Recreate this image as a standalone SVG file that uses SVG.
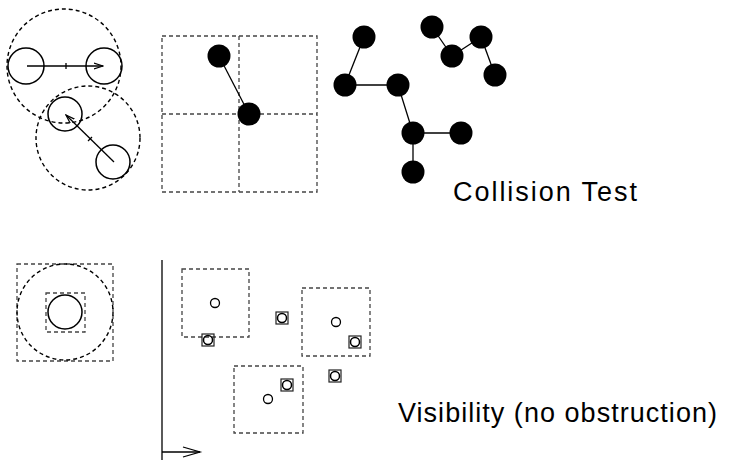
<svg xmlns="http://www.w3.org/2000/svg" width="729" height="460" viewBox="0 0 729 460">
<style>
.d{fill:none;stroke:#000;stroke-width:1.4;stroke-dasharray:4 3}
.g{fill:none;stroke:#444;stroke-width:1.3;stroke-dasharray:4 3}
.s{fill:none;stroke:#000;stroke-width:1.5}
.l{fill:none;stroke:#000;stroke-width:1.3}
.b{fill:#000;stroke:none}
.bx{fill:none;stroke:#222;stroke-width:1.2}
.t{font-family:"Liberation Sans",Arial,sans-serif;font-size:27px;fill:#000}
</style>
<defs>
<marker id="ah" markerWidth="10" markerHeight="8" refX="9" refY="4" orient="auto" markerUnits="userSpaceOnUse">
<path d="M0,1 L9,4 L0,7" fill="none" stroke="#000" stroke-width="1.2"/>
</marker>
</defs>
<rect width="729" height="460" fill="#fff"/>

<g id="collision-circles">
<circle class="d" cx="64" cy="66" r="57"/>
<circle class="d" cx="88" cy="138" r="52"/>
<circle class="s" cx="26" cy="66" r="18"/>
<circle class="s" cx="104" cy="66" r="18"/>
<circle class="s" cx="65" cy="114" r="17"/>
<circle class="s" cx="113" cy="162" r="17"/>
</g>

<g id="collision-grid">
<rect class="g" x="162" y="36" width="155" height="156"/>
<line class="g" x1="239" y1="36" x2="239" y2="192"/>
<line class="g" x1="162" y1="114" x2="317" y2="114"/>
<circle class="b" cx="219" cy="56" r="11.5"/>
<circle class="b" cx="249" cy="114" r="11.5"/>
</g>

<g id="chains">
<circle class="b" cx="364" cy="37" r="11.5"/>
<circle class="b" cx="345" cy="85" r="11.5"/>
<circle class="b" cx="398" cy="85" r="11.5"/>
<circle class="b" cx="413" cy="133" r="11.5"/>
<circle class="b" cx="461" cy="133" r="11.5"/>
<circle class="b" cx="413" cy="172" r="11.5"/>
<circle class="b" cx="432" cy="27" r="11.5"/>
<circle class="b" cx="452" cy="56" r="11.5"/>
<circle class="b" cx="481" cy="37" r="11.5"/>
<circle class="b" cx="495" cy="75" r="11.5"/>
</g>

<g id="visibility-left">
<rect class="g" x="17" y="264" width="96" height="97"/>
<circle class="d" cx="65" cy="312" r="48"/>
<rect class="g" x="46" y="293" width="39" height="39"/>
<circle class="s" cx="65" cy="312" r="17"/>
</g>

<g id="visibility-field">
<rect class="g" x="182" y="269" width="67" height="68"/>
<rect class="g" x="302" y="288" width="68" height="68"/>
<rect class="g" x="234" y="366" width="69" height="67"/>
<circle class="l" cx="215" cy="303" r="4.5"/>
<circle class="l" cx="336" cy="322" r="4.5"/>
<circle class="l" cx="268" cy="399" r="4.5"/>
<rect class="bx" x="202" y="334" width="12" height="12"/>
<circle class="s" cx="208" cy="340" r="4.5"/>
<rect class="bx" x="276" y="312" width="12" height="12"/>
<circle class="s" cx="282" cy="318" r="4.5"/>
<rect class="bx" x="349" y="336" width="12" height="12"/>
<circle class="s" cx="355" cy="342" r="4.5"/>
<rect class="bx" x="329" y="370" width="12" height="12"/>
<circle class="s" cx="335" cy="376" r="4.5"/>
<rect class="bx" x="281" y="379" width="12" height="12"/>
<circle class="s" cx="287" cy="385" r="4.5"/>
</g>

<g id="connectors">
<line class="l" x1="27" y1="66" x2="103" y2="66" marker-end="url(#ah)"/>
<line class="l" x1="66" y1="63" x2="66" y2="69"/>
<line class="l" x1="114" y1="162" x2="66" y2="115" marker-end="url(#ah)"/>
<line class="l" x1="88" y1="141" x2="92" y2="137"/>
<line class="l" x1="219" y1="56" x2="249" y2="114"/>
<line class="l" x1="364" y1="37" x2="345" y2="85"/>
<line class="l" x1="345" y1="85" x2="398" y2="85"/>
<line class="l" x1="398" y1="85" x2="413" y2="133"/>
<line class="l" x1="413" y1="133" x2="461" y2="133"/>
<line class="l" x1="413" y1="133" x2="413" y2="172"/>
<line class="l" x1="432" y1="27" x2="452" y2="56"/>
<line class="l" x1="452" y1="56" x2="481" y2="37"/>
<line class="l" x1="481" y1="37" x2="495" y2="75"/>
<line class="l" x1="162" y1="260" x2="162" y2="460"/>
<line class="l" x1="162" y1="452" x2="200" y2="452"/>
<path class="l" d="M183,447 L200,452 L183,457"/>
</g>

<text class="t" x="453" y="201" textLength="184" lengthAdjust="spacing">Collision Test</text>
<text class="t" x="398" y="422" textLength="319" lengthAdjust="spacing">Visibility (no obstruction)</text>
</svg>
